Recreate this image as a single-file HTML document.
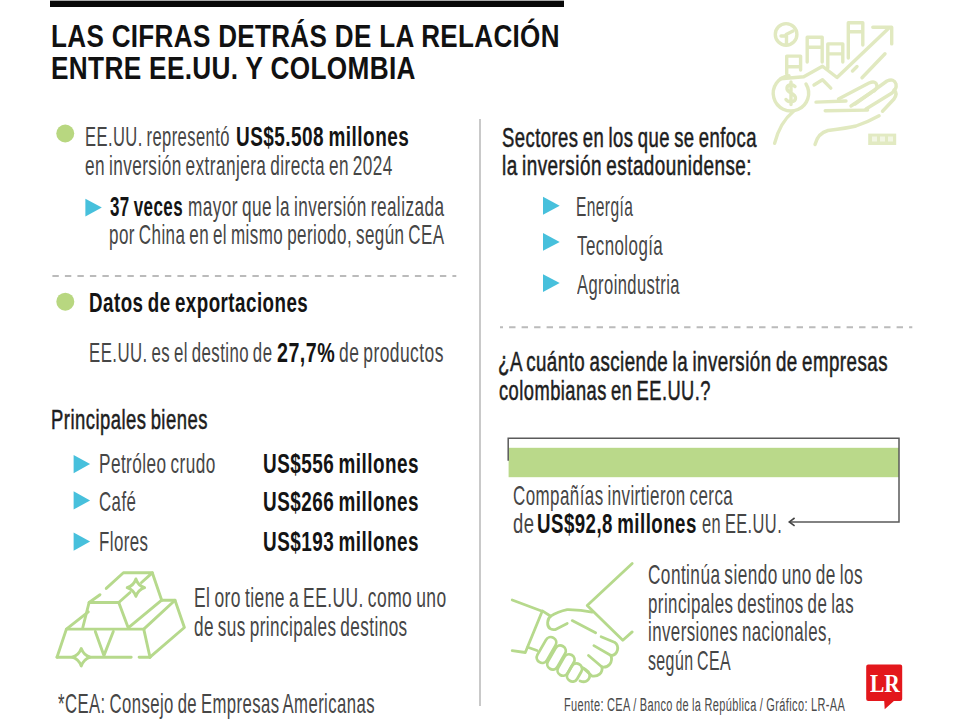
<!DOCTYPE html>
<html><head><meta charset="utf-8"><style>
html,body{margin:0;padding:0;background:#fff;}
#root{position:relative;width:960px;height:720px;overflow:hidden;background:#fff;font-family:"Liberation Sans",sans-serif;}
.t{position:absolute;white-space:nowrap;transform-origin:0 0;line-height:normal;letter-spacing:0.7px;word-spacing:-2px;}
.t b{font-weight:700;color:#141414;}
.med{-webkit-text-stroke:0.55px currentColor;}
.abs{position:absolute;}
.t.ttl{letter-spacing:0.4px;word-spacing:0;}
.t.small{letter-spacing:0.6px;word-spacing:-0.5px;}

</style></head><body>
<div id="root">
<div class="abs" style="left:50px;top:0;width:513.5px;height:1px;background:#aaa"></div><div class="abs" style="left:50px;top:1px;width:513.5px;height:5.7px;background:#080808"></div>
<svg class="abs" style="left:0;top:0" width="960" height="720" viewBox="0 0 960 720">
<!-- divider -->
<rect x="479" y="119" width="2" height="587" fill="#c9c9c9"/>
<!-- bullets -->
<circle cx="65.25" cy="133.5" r="9" fill="#b8d780"/>
<circle cx="65.3" cy="301.7" r="9" fill="#b8d780"/>
<!-- triangles -->
<g fill="#47c0dc">
<polygon points="85.4,198.7 101.8,207.6 85.4,216.6"/>
<polygon points="73.6,454.9 90.1,464 73.6,473.2"/>
<polygon points="73.6,491.3 90.1,500.4 73.6,509.6"/>
<polygon points="73.6,532.5 90.1,541.6 73.6,550.8"/>
<polygon points="543,196.7 559.7,205.7 543,214.7"/>
<polygon points="543,233 559.7,241.9 543,250.8"/>
<polygon points="543,274.2 559.7,283.1 543,292"/>
</g>
<!-- dashed -->
<line x1="52.4" y1="276.1" x2="456.3" y2="276.1" stroke="#bbbbbb" stroke-width="2" stroke-dasharray="6.4 6.1"/>
<line x1="500" y1="327.2" x2="912.3" y2="327.2" stroke="#bbbbbb" stroke-width="2" stroke-dasharray="6.4 6.1" stroke-dashoffset="3.4"/>
<!-- bar -->
<rect x="508.6" y="447.8" width="390.4" height="29.4" fill="#bad98a"/>
<path d="M508.2,460.8 V438.3 H899 V521.9 H789.5" fill="none" stroke="#5a5a5a" stroke-width="1.5"/>
<path d="M794.6,518 L789.3,521.9 L794.6,525.8" fill="none" stroke="#444" stroke-width="1.6"/>
<!-- gold bars icon -->
<g fill="none" stroke="#b6d98c" stroke-width="2.9" stroke-linejoin="round" stroke-linecap="round">
<path d="M57,657.2 H131.2 M139.1,657.2 H150"/>
<path d="M57,657.2 L66.4,629.1 H143.75 L150,657.2"/>
<path d="M95.3,631.4 L103.9,655.6 L113.3,631.4"/>
<path d="M150,657.2 L184.4,627.5 L175,600.2 H161.7"/>
<path d="M129.7,626.7 L161.7,600.2 M143.75,629.1 L175,600.2"/>
<path d="M82.8,627.5 L89.1,602.5 H118.75 L128.1,627.5"/>
<path d="M118.75,602.5 L130,592.5 M141.5,582.5 L152.3,572.8 H123.4 L106.25,588.4 M100,594.7 L89.1,602.5"/>
<path d="M152.3,572.8 L161.7,600.2"/>
<path d="M66.4,629.1 L88.3,611.9"/>
<path d="M81.25,648.5 Q83.6,655 90,657.2 Q83.6,659.5 81.25,666 Q78.9,659.5 72.5,657.2 Q78.9,655 81.25,648.5 Z" fill="#fff"/>
<path d="M135.9,579 Q138,585.5 144.6,587.7 Q138,590 135.9,596.4 Q133.8,590 127.2,587.7 Q133.8,585.5 135.9,579 Z"/>
</g>
<!-- handshake icon -->
<g fill="none" stroke="#b6d98c" stroke-width="2.8" stroke-linejoin="round" stroke-linecap="round">
<path d="M632.2,563.4 L587.2,605.6 L622.8,640.3 L632.2,631.9"/>
<path d="M512.2,600 L542.2,611.25 L525.3,652.5 L512.2,650.6"/>
<path d="M592.2,612.2 C585,610.5 575,609.5 567.2,609.6 C560,611 554,614 550.7,616.2 C547,619 546.5,626 550,628.5 C552,630 555,629.8 556,629.2 L567.2,623.5"/>
<path d="M572.2,620.6 L595.6,632.8"/>
<path d="M601.1,636.7 L614.4,642.2 C620,646 618,655 611,655.5 L593.9,645.6"/>
<path d="M611,655.5 C613,662 609,668 602,667 L588.5,655.5"/>
<path d="M602,667 C603,673 598,677 592,676 L583,668"/>
<path d="M582,667.5 Q591,671 589.5,677.5 Q587,683.5 580,681"/>
<rect x="-5.5" y="-14" width="11" height="28" rx="5.5" transform="translate(546.5,650) rotate(30)"/>
<rect x="-5.5" y="-13" width="11" height="26" rx="5.5" transform="translate(556.5,657.5) rotate(30)"/>
<rect x="-5.5" y="-11.5" width="11" height="23" rx="5.5" transform="translate(566,665) rotate(30)"/>
<rect x="-5.5" y="-9.5" width="11" height="19" rx="5.5" transform="translate(574.5,672.5) rotate(30)"/>
<path d="M542.4,610.9 L550.7,616.2 M527.8,647.3 L537,650.5"/>
</g>
<!-- growth icon -->
<g fill="none" stroke="#e1e9c0" stroke-width="3.4" stroke-linejoin="round" stroke-linecap="round">
<circle cx="786.1" cy="34.4" r="10.8"/>
<path d="M786.1,34.4 L793,31 M786.5,36 V44.5 M781,36 H786"/>
<path d="M786.7,74 V56.1 H800.6 V70 M786.7,66.7 H800.6"/>
<path d="M807.2,62 V37.2 H822.2 V62 M807.2,47.2 H822.2"/>
<path d="M827.8,68 V43.9 H842.8 V62 M827.8,53.9 H842.8"/>
<path d="M848.3,58 V22.8 H862.8 V45 M848.3,31.7 H862.8"/>
<path d="M780.8,78.75 L803.75,76.7 L822.5,66.25 L837,77.5 L889.2,27.7"/>
<path d="M872.8,27.2 H891.7 V43.9"/>
<path d="M814,85 L822.5,79.8 L830.8,88.1"/>
<path d="M862,77.7 L885,53.75 M852.5,71 L857,66.5"/>
<path d="M806,84 A17.7,17.7 0 1 1 789,75.7"/>
<path d="M795,86.5 C792,83.5 786.5,84.5 787,89 C787.5,93 795.5,93 795.5,98 C795.5,102.5 788.5,103 786,99.5 M791,82 V104.5"/>
<path d="M774.6,143.3 C778,130 784,119 793.3,111.5"/>
<path d="M815,144.5 Q818,133 828,130.5 Q848,128 856,126 Q868,122 879.1,115.8"/>
<path d="M816,102.1 L846,101"/>
<path d="M838.5,99 L869,83 Q876,80 877,86 Q877,90 872,92 L851,106"/>
<path d="M855,104 L887,81 Q894,78 896,84 Q897,89 892,93 L866,109"/>
<path d="M882.5,111.25 L894,99 Q898,93 894,90"/>
<path d="M825.2,110.7 L867.6,110.1"/>
</g>
<rect x="868.2" y="133.6" width="28" height="11.4" fill="#e2eac2"/>
<g fill="#f2f6e4"><rect x="872" y="136.5" width="5" height="5"/><rect x="880" y="136.5" width="5" height="5"/><rect x="888" y="136.5" width="5" height="5"/></g>
<!-- LR logo -->
<path d="M868.2,664.6 H900.2 Q902.2,664.6 902.2,666.6 V699 Q902.2,701 900.2,701 H893.9 L884.7,709.3 L884.2,701 H868.2 Q866.2,701 866.2,699 V666.6 Q866.2,664.6 868.2,664.6 Z" fill="#e3171c"/>
</svg>
<div class="abs" style="left:869.5px;top:668.5px;width:30px;font-family:'Liberation Serif',serif;font-weight:700;font-size:25px;line-height:30px;color:#fff;white-space:nowrap;transform-origin:0 0;transform:scaleX(0.86)">LR</div>

<div class="t ttl" id="t0" style="left:51.2px;top:18.9px;font-size:31px;font-weight:700;color:#111;transform:scaleX(0.8399);">LAS CIFRAS DETRÁS DE LA RELACIÓN</div>
<div class="t ttl" id="t1" style="left:51.2px;top:50.9px;font-size:31px;font-weight:700;color:#111;transform:scaleX(0.8449);">ENTRE EE.UU. Y COLOMBIA</div>
<div class="t reg" id="t2" style="left:85.2px;top:120.5px;font-size:27.5px;font-weight:400;color:#464646;transform:scaleX(0.6017);">EE.UU. representó</div>
<div class="t " id="t3" style="left:235.8px;top:120.5px;font-size:27.5px;font-weight:700;color:#141414;transform:scaleX(0.6890);">US$5.508 millones</div>
<div class="t reg" id="t4" style="left:85.2px;top:149.6px;font-size:27.5px;font-weight:400;color:#464646;transform:scaleX(0.6247);">en inversión extranjera directa en 2024</div>
<div class="t " id="t5" style="left:110.0px;top:190.5px;font-size:27.5px;font-weight:700;color:#141414;transform:scaleX(0.6171);">37 veces</div>
<div class="t reg" id="t6" style="left:188.0px;top:190.5px;font-size:27.5px;font-weight:400;color:#464646;transform:scaleX(0.6249);">mayor que la inversión realizada</div>
<div class="t reg" id="t7" style="left:109.0px;top:218.7px;font-size:27.5px;font-weight:400;color:#464646;transform:scaleX(0.6182);">por China en el mismo periodo, según CEA</div>
<div class="t reg" id="t8" style="left:89.0px;top:287.2px;font-size:27.5px;font-weight:400;color:#464646;transform:scaleX(0.6816);"><b>Datos de exportaciones</b></div>
<div class="t reg" id="t9" style="left:89.2px;top:337.1px;font-size:27.5px;font-weight:400;color:#464646;transform:scaleX(0.6113);">EE.UU. es el destino de</div>
<div class="t " id="t10" style="left:277.4px;top:337.1px;font-size:27.5px;font-weight:700;color:#141414;transform:scaleX(0.7149);">27,7%</div>
<div class="t reg" id="t11" style="left:339.4px;top:337.1px;font-size:27.5px;font-weight:400;color:#464646;transform:scaleX(0.6338);">de productos</div>
<div class="t med" id="t12" style="left:51.0px;top:404.2px;font-size:27.5px;font-weight:400;color:#1e1e1e;transform:scaleX(0.6708);">Principales bienes</div>
<div class="t reg" id="t13" style="left:99.4px;top:448.1px;font-size:27.5px;font-weight:400;color:#464646;transform:scaleX(0.6249);">Petróleo crudo</div>
<div class="t reg" id="t14" style="left:99.4px;top:485.7px;font-size:27.5px;font-weight:400;color:#464646;transform:scaleX(0.6128);">Café</div>
<div class="t reg" id="t15" style="left:99.4px;top:525.5px;font-size:27.5px;font-weight:400;color:#464646;transform:scaleX(0.6128);">Flores</div>
<div class="t reg" id="t16" style="left:262.8px;top:447.5px;font-size:27.5px;font-weight:400;color:#464646;transform:scaleX(0.6871);"><b>US$556 millones</b></div>
<div class="t reg" id="t17" style="left:262.8px;top:485.7px;font-size:27.5px;font-weight:400;color:#464646;transform:scaleX(0.6871);"><b>US$266 millones</b></div>
<div class="t reg" id="t18" style="left:262.8px;top:525.5px;font-size:27.5px;font-weight:400;color:#464646;transform:scaleX(0.6871);"><b>US$193 millones</b></div>
<div class="t reg" id="t19" style="left:194.4px;top:582.2px;font-size:27.5px;font-weight:400;color:#464646;transform:scaleX(0.6335);">El oro tiene a EE.UU. como uno</div>
<div class="t reg" id="t20" style="left:194.4px;top:610.7px;font-size:27.5px;font-weight:400;color:#464646;transform:scaleX(0.6226);">de sus principales destinos</div>
<div class="t reg" id="t21" style="left:58.0px;top:687.6px;font-size:27.5px;font-weight:400;color:#464646;transform:scaleX(0.6077);">*CEA: Consejo de Empresas Americanas</div>
<div class="t med" id="t22" style="left:502.0px;top:121.6px;font-size:27.5px;font-weight:400;color:#1e1e1e;transform:scaleX(0.6706);">Sectores en los que se enfoca</div>
<div class="t med" id="t23" style="left:502.0px;top:150.1px;font-size:27.5px;font-weight:400;color:#1e1e1e;transform:scaleX(0.6866);">la inversión estadounidense:</div>
<div class="t reg" id="t24" style="left:576.0px;top:191.2px;font-size:27.5px;font-weight:400;color:#464646;transform:scaleX(0.5654);">Energía</div>
<div class="t reg" id="t25" style="left:577.0px;top:230.1px;font-size:27.5px;font-weight:400;color:#464646;transform:scaleX(0.6157);">Tecnología</div>
<div class="t reg" id="t26" style="left:577.0px;top:269.1px;font-size:27.5px;font-weight:400;color:#464646;transform:scaleX(0.6018);">Agroindustria</div>
<div class="t med" id="t27" style="left:498.0px;top:346.2px;font-size:27.5px;font-weight:400;color:#1e1e1e;transform:scaleX(0.6806);">¿A cuánto asciende la inversión de empresas</div>
<div class="t med" id="t28" style="left:499.0px;top:375.2px;font-size:27.5px;font-weight:400;color:#1e1e1e;transform:scaleX(0.6653);">colombianas en EE.UU.?</div>
<div class="t reg" id="t29" style="left:512.8px;top:480.1px;font-size:27.5px;font-weight:400;color:#464646;transform:scaleX(0.6163);">Compañías invirtieron cerca</div>
<div class="t reg" id="t30" style="left:512.8px;top:508.0px;font-size:27.5px;font-weight:400;color:#464646;transform:scaleX(0.6714);">de</div>
<div class="t " id="t31" style="left:537.2px;top:508.0px;font-size:27.5px;font-weight:700;color:#141414;transform:scaleX(0.6789);">US$92,8 millones</div>
<div class="t reg" id="t32" style="left:702.0px;top:508.0px;font-size:27.5px;font-weight:400;color:#464646;transform:scaleX(0.5969);">en EE.UU.</div>
<div class="t reg" id="t33" style="left:648.0px;top:559.2px;font-size:27.5px;font-weight:400;color:#464646;transform:scaleX(0.6259);">Continúa siendo uno de los</div>
<div class="t reg" id="t34" style="left:648.0px;top:588.1px;font-size:27.5px;font-weight:400;color:#464646;transform:scaleX(0.6142);">principales destinos de las</div>
<div class="t reg" id="t35" style="left:648.0px;top:616.2px;font-size:27.5px;font-weight:400;color:#464646;transform:scaleX(0.6135);">inversiones nacionales,</div>
<div class="t reg" id="t36" style="left:648.0px;top:645.1px;font-size:27.5px;font-weight:400;color:#464646;transform:scaleX(0.5789);">según CEA</div>
<div class="t small" id="t37" style="left:563.8px;top:694.7px;font-size:18px;font-weight:400;color:#4a4a4a;transform:scaleX(0.6114);">Fuente: CEA / Banco de la República / Gráfico: LR-AA</div>
</div>
</body></html>
